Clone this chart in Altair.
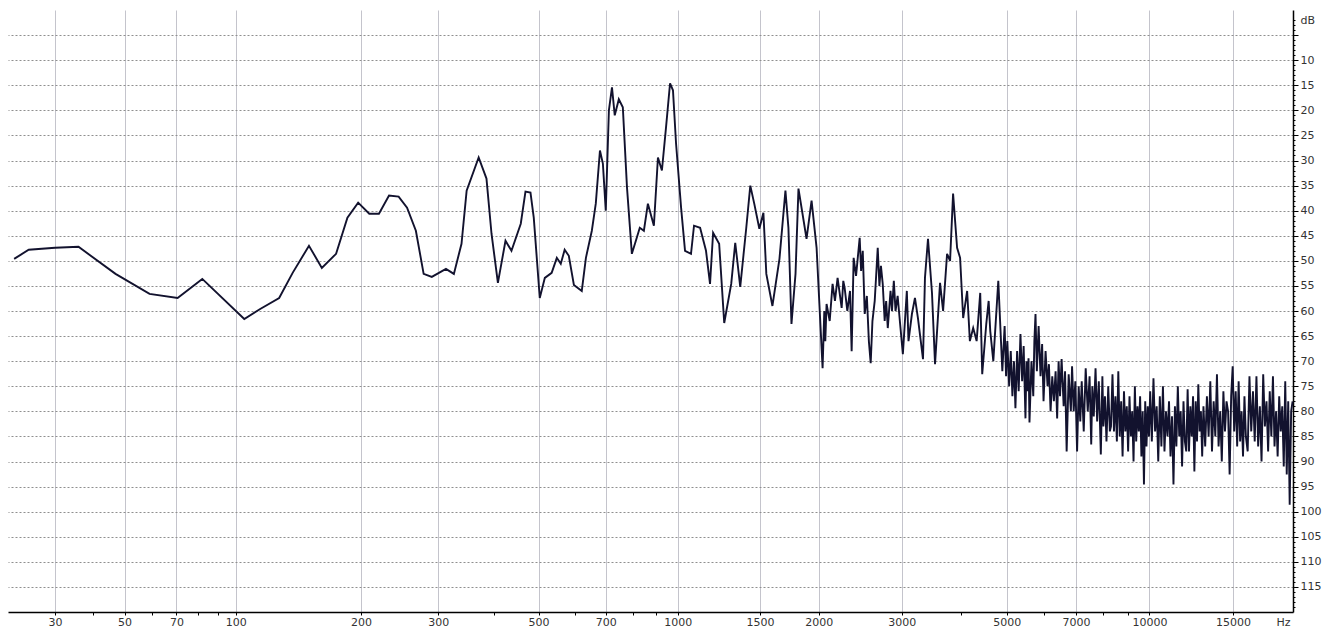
import json
import altair as alt
import pandas as pd

# ---- spectrum readings (Hz, dB) ----
freq_lo = [21, 24, 30, 36, 47, 59, 70.5, 82, 105, 115, 128, 138, 151, 162, 175, 186, 197, 209, 220, 232,
           244, 255, 267, 278, 290, 312, 325, 338, 347, 369, 384, 394, 407, 423, 436, 457, 468, 480, 488, 503,
           516, 534, 548, 559, 570, 582, 597, 621, 634, 653, 666, 680, 690, 700, 711, 722, 732, 747, 762, 778,
           797, 813, 829, 846, 863, 889, 907, 925, 944, 963, 977, 992, 1017, 1037, 1068, 1084, 1117, 1150, 1173, 1191,
           1227]
db_lo = [-49.6, -47.8, -47.4, -47.2, -52.6, -56.6, -57.4, -53.6, -61.6, -59.6, -57.4, -52.4, -47, -51.4, -48.6, -41.4, -38.4, -40.6, -40.6, -37,
         -37.2, -39.4, -44, -52.6, -53.2, -51.6, -52.6, -46.6, -36, -29.4, -33.6, -44.6, -54.4, -46, -48, -42.6, -36.2, -36.4, -41.4, -57.4,
         -53.4, -52.4, -49.4, -50.6, -47.8, -49, -54.8, -56, -49.4, -44, -38.6, -28, -30.6, -40, -20, -15.4, -21, -17.8, -19.4, -35.4,
         -48.6, -46, -43.4, -44, -38.6, -43, -29.4, -32, -23.4, -14.6, -16, -26.6, -39.4, -48, -48.6, -43, -43.4, -48, -54.6, -44.4,
         -46.6]

freq_mid = [1258, 1302, 1328, 1361, 1402, 1430, 1458, 1495, 1525, 1547, 1594, 1650, 1699, 1724, 1750, 1785, 1811, 1884, 1931, 1979,
            2038, 2055, 2065, 2078, 2110, 2140, 2165, 2193, 2237, 2255, 2270, 2300, 2330, 2349, 2372, 2400, 2443, 2460, 2480, 2504,
            2530, 2555, 2578, 2600, 2629, 2668, 2690, 2710, 2734, 2760, 2780, 2802, 2840, 2860, 2886, 2910, 2940, 2972, 3016, 3075,
            3100, 3152, 3199, 3246, 3327, 3359, 3409, 3476, 3528, 3615, 3669, 3741, 3796, 3852, 3928, 3986, 4046, 4125, 4180, 4248,
            4320, 4396, 4439, 4527, 4580, 4616, 4685, 4800, 4895]
db_mid = [-62.4, -54.6, -46.4, -55.2, -43.4, -35, -38.6, -43.6, -40.4, -52.6, -59, -49.6, -36, -43.4, -62.6, -52.6, -35.6, -45.6, -38, -47.4,
          -71.4, -60, -66, -58.6, -62, -54.6, -58, -53.4, -59.4, -54, -55.4, -60, -56, -68, -49.4, -53, -45.4, -52, -48, -60.6,
          -57, -66, -70.4, -62, -58, -47.4, -55, -51, -54.6, -62, -58, -63.4, -56, -60, -54, -60, -57, -62, -68.6, -56,
          -66, -60.6, -57.4, -61.4, -69.6, -53.4, -45.6, -56.4, -70.6, -54.4, -60, -48.6, -50, -36.6, -47.4, -49.4, -61.4, -56, -66, -63.4,
          -66, -56.4, -72.6, -62.6, -58, -64, -70, -54, -72]

freq_hf1 = [4950, 4985, 5016, 5060, 5100, 5141, 5180, 5217, 5260, 5300, 5346, 5390, 5430, 5478, 5505, 5531, 5560, 5586, 5640, 5690,
            5720, 5752, 5790, 5840, 5894, 5940, 5981, 6040, 6099, 6140, 6189, 6240, 6290, 6342, 6390, 6435, 6480, 6530, 6595, 6640,
            6692, 6758, 6830, 6870, 6925, 6980, 7040, 7095, 7150, 7200, 7271, 7340, 7414, 7480, 7540, 7580, 7634, 7700, 7760, 7823,
            7900, 7960, 8000, 8060, 8120, 8190, 8254]
db_hf1 = [-63, -73, -66, -75, -68, -77, -70, -79.4, -68, -76, -64.6, -74, -67, -81.4, -70, -76, -69.4, -82.2, -70, -77,
          -66, -60.6, -72, -63, -73, -66.6, -78, -68, -75, -70.6, -80, -73, -78, -72, -81.4, -70, -77, -69.6, -79, -72,
          -88, -72.6, -80, -71, -80, -74, -88, -75, -82, -74, -84, -71.4, -80, -73, -86.6, -75, -81, -71.4, -82, -74,
          -88.6, -73, -83, -77, -86, -75, -84]

freq_hf2 = [8300, 8360, 8420, 8480, 8540, 8600, 8660, 8720, 8780, 8840, 8900, 8960, 9020, 9080, 9140, 9200, 9260, 9320, 9380, 9440,
            9500, 9560, 9620, 9680, 9740, 9800, 9860, 9920, 9980,
            10040, 10120, 10200, 10280, 10360, 10440, 10520, 10600, 10680, 10760, 10840, 10920, 11000, 11080, 11160, 11240, 11320, 11400, 11480, 11560,
            11640, 11720, 11800, 11880, 11960, 12040, 12120, 12200, 12280, 12360, 12440, 12520, 12600, 12680, 12760, 12840, 12920,
            13000, 13110, 13220, 13330, 13440, 13550, 13660, 13770, 13880, 13990, 14100, 14210, 14320, 14430, 14540, 14650, 14760, 14870, 14980, 15090,
            15200, 15310, 15420, 15530, 15640, 15750, 15860, 15970,
            16110, 16250, 16390, 16530, 16670, 16810, 16950, 17090, 17230, 17370, 17510, 17650, 17790, 17930, 18070, 18210, 18350, 18490, 18630, 18770,
            18910, 19050, 19190, 19330, 19470, 19610, 19750, 19890, 20030]
db_hf2 = [-83, -72.6, -84, -77, -86, -72, -85, -78, -89, -76, -84, -79, -88, -77, -85, -80, -90, -75, -86, -79,
          -84, -77, -89, -80, -94.6, -78, -87, -79, -85,
          -76, -86, -73.4, -84, -79, -90, -77, -87, -75, -88, -80, -85, -78, -89, -81, -94.6, -79, -87, -75, -85,
          -80, -91, -78, -86, -88, -75.6, -88, -79, -85, -77, -92, -78, -86, -74.6, -84, -80, -89,
          -79, -87, -77, -85, -74, -88, -78, -85, -72.6, -87, -80, -90, -76, -84, -78, -80, -92.6, -77, -71, -84,
          -76, -87, -74, -86, -80, -89, -77, -85,
          -88, -73, -84, -76, -86, -73, -87, -79, -90, -72.6, -83, -78, -88, -76, -85, -73, -87, -80, -89, -77,
          -84, -79, -91, -74, -92.6, -78, -98.6, -80, -78]

# ---- axis ticks ----
x_ticks = [30, 40, 50, 60, 70, 80, 90, 100, 200, 300, 400, 500, 600, 700, 800, 900, 1000, 1500, 2000,
           3000, 4000, 5000, 6000, 7000, 8000, 9000, 10000, 15000]
x_labels = [30, 50, 70, 100, 200, 300, 500, 700, 1000, 1500, 2000, 3000, 5000, 7000, 10000, 15000]
y_ticks = list(range(-119, -1))

df = pd.DataFrame({
    "freq": freq_lo + freq_mid + freq_hf1 + freq_hf2,
    "db": db_lo + db_mid + db_hf1 + db_hf2,
})

lab = json.dumps(x_labels)
is_lab = f"indexof({lab}, datum.value) >= 0"
FONT = "DejaVu Sans"

x_axis = alt.Axis(
    values=x_ticks, format="d",
    labelExpr=f"{is_lab} ? datum.label : ''",
    labelOverlap=False, labelFlush=False,
    grid=True,
    gridOpacity={"condition": {"test": is_lab, "value": 1}, "value": 0},
    gridColor="#c4c4cc", gridWidth=1,
    domainColor="#000000", domainWidth=1.5,
    tickColor="#000000", tickSize=3, tickWidth=1,
    labelPadding=1, labelFont=FONT, labelFontSize=11, labelColor="#333333",
    title="Hz", titleX=1275, titleY=10, titleAlign="center", titleBaseline="middle",
    titleFont=FONT, titleFontSize=11, titleFontWeight="normal", titleColor="#333333",
)

y_axis = alt.Axis(
    orient="right", values=y_ticks,
    labelExpr="datum.value <= -10 && datum.value % 5 === 0 ? format(-datum.value, 'd') : ''",
    labelOverlap=False, labelFlush=False,
    grid=True,
    gridOpacity={"condition": {"test": "datum.value % 5 === 0", "value": 1}, "value": 0},
    gridDash=[2, 2], gridColor="#8f8f8f", gridWidth=1,
    domainColor="#000000", domainWidth=1.5,
    tickColor="#000000", tickWidth=1,
    tickSize={"condition": {"test": "datum.value % 5 === 0", "value": 5}, "value": 2},
    labelPadding=2, labelFont=FONT, labelFontSize=11, labelColor="#333333",
    title="dB", titleAngle=0, titleX=7, titleY=10, titleAlign="left", titleBaseline="middle",
    titleFont=FONT, titleFontSize=11, titleFontWeight="normal", titleColor="#333333",
)

chart = alt.Chart(df).mark_line(color="#12122e", strokeWidth=1.9).encode(
    x=alt.X("freq:Q",
            scale=alt.Scale(type="symlog", constant=20, domain=[19.8, 20070], nice=False, zero=False),
            axis=x_axis),
    y=alt.Y("db:Q", scale=alt.Scale(domain=[-120, 0], nice=False, zero=False), axis=y_axis),
    order="freq:Q",
).properties(
    width=1285, height=602,
    padding={"left": 0, "top": 2, "right": 5, "bottom": 0},
    background="white",
).configure_view(strokeWidth=0)

chart.save("out.html", embed_options={"renderer": "svg", "actions": False})
